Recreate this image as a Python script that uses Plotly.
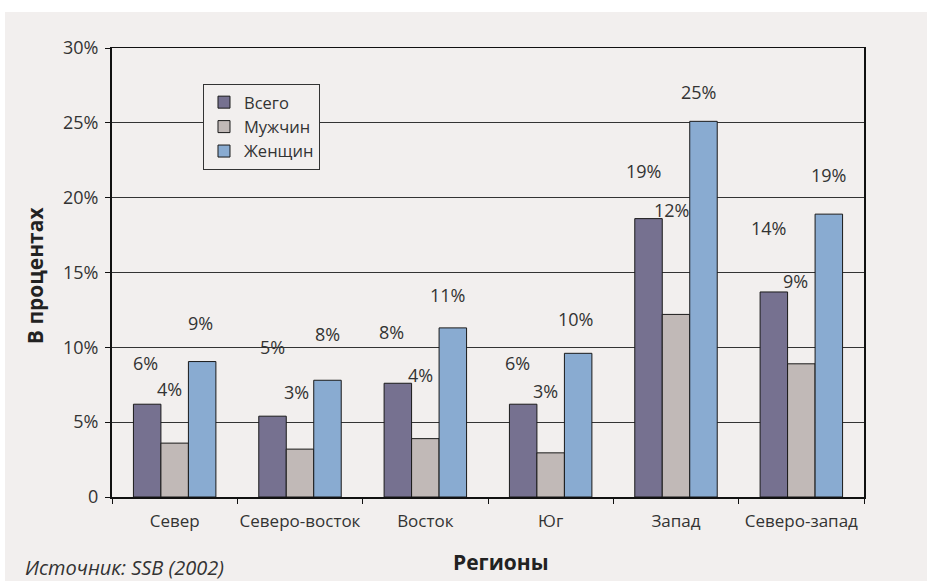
import plotly.graph_objects as go

categories = ["Север", "Северо-восток", "Восток", "Юг", "Запад", "Северо-запад"]
series_names = ["Всего", "Мужчин", "Женщин"]
vsego = [6.2, 5.4, 7.6, 6.2, 18.6, 13.7]
muzhchin = [3.6, 3.2, 3.9, 2.95, 12.2, 8.9]
zhenshchin = [9.05, 7.8, 11.3, 9.6, 25.1, 18.9]
y_tick_vals = [0, 5, 10, 15, 20, 25, 30]
y_tick_text = ["0", "5%", "10%", "15%", "20%", "25%", "30%"]

series_values = [vsego, muzhchin, zhenshchin]
colors = ["#767190", "#c1b9b7", "#89abd1"]

# label placement (pixels), mimicking the hand-placed labels of the original
bar_offsets = [-27.5, 0, 27.5]
label_dx = [[-2, 0, -6, -6, -5, -5],
            [-5, -4, -5, -5, -5, -6],
            [-2, 0, -5, -3, -5, 0]]
label_dy = [[41, 69, 51, 41, 48, 64],
            [54, 57, 64, 62, 104, 83],
            [39, 46, 33, 34, 29, 39]]

FONT = "Open Sans"
BG = "#f2efee"
TXT = "#333333"

fig = go.Figure()
for name, vals, col in zip(series_names, series_values, colors):
    fig.add_trace(go.Bar(
        x=categories, y=vals, name=name,
        marker=dict(color=col, line=dict(color="#1a1a1a", width=1)),
        hoverinfo="skip",
    ))

annotations = []
for i, vals in enumerate(series_values):
    for j, (c, v) in enumerate(zip(categories, vals)):
        annotations.append(dict(
            x=c, y=v, xref="x", yref="y",
            text=f"{int(v + 0.5)}%", showarrow=False,
            xshift=bar_offsets[i] + label_dx[i][j], yshift=label_dy[i][j],
            xanchor="center", yanchor="middle",
            font=dict(family=FONT, size=18, color=TXT),
        ))

annotations += [
    dict(text="<b>В процентах</b>", x=-0.1024, y=0.494, xref="paper", yref="paper",
         textangle=-90, showarrow=False, xanchor="center", yanchor="middle",
         font=dict(family=FONT, size=21, color="#222222")),
    dict(text="<b>Регионы</b>", x=0.517, y=-0.144, xref="paper", yref="paper",
         showarrow=False, xanchor="center", yanchor="middle",
         font=dict(family=FONT, size=21, color="#222222")),
    dict(text="<i>Источник: SSB (2002)</i>", x=-0.118, y=-0.158, xref="paper", yref="paper",
         showarrow=False, xanchor="left", yanchor="middle",
         font=dict(family=FONT, size=20, color=TXT)),
]

fig.update_layout(
    width=927, height=581,
    margin=dict(l=112, r=63, t=48, b=84, autoexpand=False),
    paper_bgcolor=BG, plot_bgcolor=BG,
    barmode="group", bargap=0.342, bargroupgap=0,
    font=dict(family=FONT, size=18, color=TXT),
    showlegend=True,
    legend=dict(x=0.121, y=0.92, xanchor="left", yanchor="top",
                bgcolor=BG, bordercolor="#333333", borderwidth=1,
                font=dict(family=FONT, size=16.5, color=TXT),
                tracegroupgap=0, itemclick=False),
    annotations=annotations,
    shapes=[
        dict(type="rect", xref="paper", yref="paper", x0=-0.2, x1=1.2,
             y0=(497 - 12) / 449, y1=1.2, fillcolor="white", line=dict(width=0)),
        dict(type="rect", xref="paper", yref="paper", x0=-0.2, x1=(5 - 112) / 752,
             y0=-0.3, y1=1.2, fillcolor="white", line=dict(width=0)),
    ],
)

fig.update_xaxes(
    type="category", showline=True, linecolor="#111111", linewidth=1.5, mirror=True,
    ticks="outside", tickson="boundaries", ticklen=5, tickcolor="#111111",
    tickfont=dict(family=FONT, size=17, color=TXT), ticklabelstandoff=8,
    tickangle=0, automargin=False,
    showgrid=False, zeroline=False,
)
fig.update_yaxes(
    range=[0, 30], tickvals=y_tick_vals, ticktext=y_tick_text,
    showline=True, linecolor="#111111", linewidth=2, mirror=True,
    ticks="outside", ticklen=5, tickcolor="#111111",
    tickfont=dict(family=FONT, size=18, color=TXT), ticklabelstandoff=3,
    automargin=False,
    showgrid=True, gridcolor="#333333", gridwidth=1.2, zeroline=False,
)

fig.write_html(
    "out.html",
    config={"displayModeBar": False, "staticPlot": True},
    post_script="document.body.style.margin='0';document.body.style.padding='0';"
                "document.documentElement.style.overflow='hidden';",
)
